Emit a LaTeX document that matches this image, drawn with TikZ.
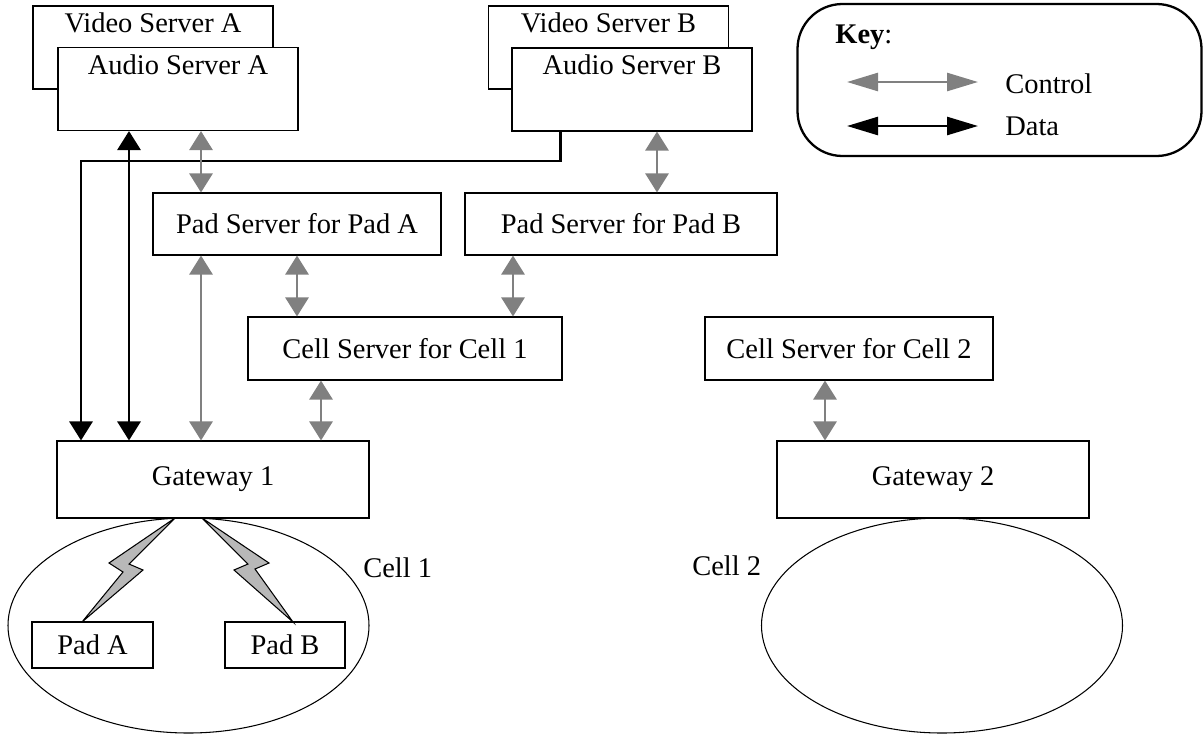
\documentclass[tikz,border=0pt]{standalone}
\usepackage{fontspec}
\setmainfont{Liberation Serif}
\usetikzlibrary{arrows.meta,shapes.geometric}

\definecolor{ctrlgray}{gray}{0.5}
\definecolor{boltgray}{gray}{0.72}

\newcommand{\srvbox}[3]{
    \node[box,sz={240}{83},label={[anchor=north,yshift=-0.14cm]north:#3}] (#1) at (#2) {};
}

\begin{document}
\begin{tikzpicture}[x=0.02cm,y=-0.02cm,inner sep=0pt,
    font=\fontsize{16.2}{19}\selectfont,
    sz/.style 2 args={minimum width=#1*0.02cm,minimum height=#2*0.02cm},
    box/.style={draw,fill=white,line width=0.6pt},
    cell/.style={draw,ellipse,line width=0.6pt},
    tip/.style={-{Triangle[length=0.38cm,width=0.46cm]}},
    ctrl/.style={draw=ctrlgray,line width=1.6pt,{Triangle[length=0.38cm,width=0.46cm]}-{Triangle[length=0.38cm,width=0.46cm]}},
    data/.style={draw=black,line width=1.7pt},
    keyarr/.style={line width=1.5pt,{Triangle[length=0.62cm,width=0.36cm]}-{Triangle[length=0.62cm,width=0.36cm]}},
    bolt/.style={fill=boltgray,draw,line width=0.6pt,line join=miter}]

\useasboundingbox (0,0) rectangle (1203,734);

% servers
\srvbox{vidA}{153,47.5}{Video Server A}
\srvbox{audA}{178,89}{Audio Server A}
\srvbox{vidB}{608.5,47.5}{Video Server B}
\srvbox{audB}{632,89.5}{Audio Server B}

\node[box,sz={288}{62}] (padsA) at (297,224) {Pad Server for Pad A};
\node[box,sz={312}{62}] (padsB) at (621,224) {Pad Server for Pad B};
\node[box,sz={314}{63}] (cell1) at (405,348.5) {Cell Server for Cell 1};
\node[box,sz={288}{63}] (cell2) at (849,348.5) {Cell Server for Cell 2};

\node[cell,sz={361}{215}] (cellA) at (188.5,625.5) {};
\node[cell,sz={361}{215}] (cellB) at (942,625.5) {};
\node[anchor=base west] (cellAlbl) at (363,577) {Cell 1};
\node[anchor=base west] (cellBlbl) at (692,575) {Cell 2};

\node[box,sz={312}{77}] (gw1) at (213,479.5) {Gateway 1};
\node[box,sz={312}{77}] (gw2) at (933,479.5) {Gateway 2};

\node[box,sz={121}{46}] (padA) at (92.5,645) {Pad A};
\node[box,sz={120}{46}] (padB) at (285,645) {Pad B};

% wireless links
\filldraw[bolt] (175,518) -- (109,563) -- (123,572) -- (82,622) -- (143,570) -- (129,564) -- cycle;
\filldraw[bolt] (202,518) -- (269,563) -- (255,569) -- (293,622) -- (234,570) -- (248,564) -- cycle;

% control
\coordinate (xc1) at (201,0);
\coordinate (xc2) at (297,0);
\coordinate (xc3) at (321,0);
\coordinate (xc4) at (513,0);
\coordinate (xc5) at (657,0);
\coordinate (xc6) at (825,0);

% data
\coordinate (dA) at (81,161);
\coordinate (dB) at (560,0);
\coordinate (dC) at (129,0);

\draw[data,tip] (audB.south -| dB) |- (dA) -- (gw1.north -| dA);
\draw[data,{Triangle[length=0.38cm,width=0.46cm]}-{Triangle[length=0.38cm,width=0.46cm]}] (audA.south -| dC) -- (gw1.north -| dC);

\foreach \a/\b/\c in {audA/padsA/xc1,padsA/gw1/xc1,padsA/cell1/xc2,cell1/gw1/xc3,audB/padsB/xc5,padsB/cell1/xc4,cell2/gw2/xc6}{
    \draw[ctrl] (\a.south -| \c) -- (\b.north -| \c);
}

% key
\node[draw,line width=1.3pt,rounded corners=0.9cm,sz={404}{152}] (key) at (999.5,80) {};
\node[anchor=base west] (keyttl) at (835,43) {\textbf{Key}:};
\node[anchor=base west] (ctrltxt) at (1005,93) {Control};
\node[anchor=base west] (datatxt) at (1005,135) {Data};
\coordinate (kc) at (847,82);
\coordinate (kd) at (847,126);
\draw[keyarr,ctrlgray] (kc) -- (kc -| 978,0);
\draw[keyarr,black] (kd) -- (kd -| 978,0);

\end{tikzpicture}
\end{document}
